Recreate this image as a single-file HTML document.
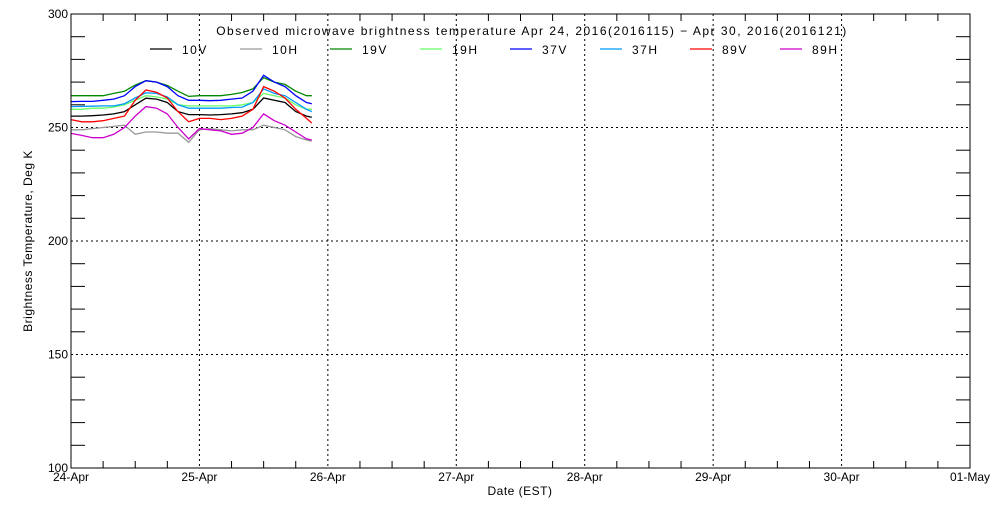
<!DOCTYPE html>
<html><head><meta charset="utf-8"><style>
body{margin:0;background:#fff}
svg text{font-family:"Liberation Sans",sans-serif;font-size:12px;fill:#000}
</style></head><body>
<svg id="chart" width="1000" height="500" xmlns="http://www.w3.org/2000/svg">
<rect width="1000" height="500" fill="#fff"/>
<g id="grid"></g>
<g id="series"></g>
<rect x="71" y="14" width="899" height="454" fill="none" stroke="#000" stroke-width="1"/>
<g id="axes"></g>
<text x="532" y="35" text-anchor="middle" font-size="13" letter-spacing="1.5">Observed microwave brightness temperature Apr 24, 2016(2016115) − Apr 30, 2016(2016121)</text>
<g id="legend"></g>
<text x="520" y="495" text-anchor="middle" letter-spacing="0.5">Date (EST)</text>
<text transform="translate(32,241) rotate(-90)" text-anchor="middle" letter-spacing="0.5">Brightness Temperature, Deg K</text>
</svg>
<script>
const hours=[0,2,4,6,8,10,12,14,16,18,20,22,24,26,28,30,32,34,36,38,40,42,44,45];
const v10V=[255,255,255.2,255.5,256,257,260,262.9,262.5,261,257,255.7,255.7,255.5,255.7,256,256.5,258,263,262,261,257,255,254.5];
const v10H=[249,249,249.5,250,250.5,251,247,248,248,247.5,247.5,243.5,249,249.5,249,248.5,249,249,251,250,249,246,244.5,244];
const v19V=[264,264,264,264,265,266,268.7,270.6,270,268.5,266,263.7,264,264,264,264.6,265.4,267,272,270,269,266,264,264];
const v19H=[258,258,258.5,258.5,259,260,262,264,263.5,262.5,260,259.5,259.5,259.5,259.5,259.5,260,261,265,264,263,260,258,258];
const v37V=[261.4,261.5,261.5,262,262.5,264,268,270.6,270,268,264,262,262,261.8,262,262.5,263,266,273,270,268,264,261,260.5];
const v37H=[259.2,259.3,259.4,259.5,259.5,260.5,263,265.3,265,263.5,260,258.5,258.5,258.5,258.5,258.8,259,261,267,265,264,261,258,257];
const v89V=[253.5,252.5,252.5,253,254,255,262,266.5,265.5,263,257,252.5,254,254,253.5,254,255,258,268,266,263,258,254,252];
const v89H=[247.4,246.5,245.5,245.5,247,250,255,259.2,258.5,256,250,245,249.5,249,248.5,247,247.5,250,256,253,251,248,245,244.5];
const dayLabels=["24-Apr","25-Apr","26-Apr","27-Apr","28-Apr","29-Apr","30-Apr","01-May"];
const yTicks=[100,150,200,250,300];
const seriesNames=["10V","10H","19V","19H","37V","37H","89V","89H"];
const seriesColors=["#000","#999","#008800","#66ff66","#0000ff","#0099ff","#ff0000","#cc00cc"];
const seriesData=[v10V,v10H,v19V,v19H,v37V,v37H,v89V,v89H];
const NS="http://www.w3.org/2000/svg";
const X0=71,X1=970,Y0=468,Y1=14;
const xs=h=>X0+h*(X1-X0)/(7*24);
const ys=v=>Y0-(v-100)*(Y0-Y1)/200;
function mk(tag,attrs,parent){const e=document.createElementNS(NS,tag);for(const k in attrs)e.setAttribute(k,attrs[k]);parent.appendChild(e);return e;}
const grid=document.getElementById('grid'),axes=document.getElementById('axes'),ser=document.getElementById('series'),leg=document.getElementById('legend');
dayLabels.forEach((d,i)=>{const x=xs(i*24);
 if(i>0&&i<7){const l=mk('line',{x1:x,x2:x,y1:Y1,y2:Y0,stroke:'#000','stroke-dasharray':'2,3'},grid);
 
 }
 const t=mk('text',{x:x,y:481,'text-anchor':'middle','font-size':'11'},axes);t.textContent=d;
 
 
});
for(let h=6;h<168;h+=6){if(h%24===0)continue;const x=xs(h);
 mk('line',{x1:x,x2:x,y1:Y0,y2:Y0-7,stroke:'#000'},axes);mk('line',{x1:x,x2:x,y1:Y1,y2:Y1+7,stroke:'#000'},axes);}
yTicks.forEach(v=>{const y=ys(v);
 if(v>100&&v<300){const l=mk('line',{x1:X0,x2:X1,y1:y,y2:y,stroke:'#000','stroke-dasharray':'2,3'},grid);
 
 }
 const t=mk('text',{x:X0-3,y:y+4,'text-anchor':'end','font-size':'11'},axes);t.textContent=v;
 
 
});
for(let v=110;v<300;v+=10){if(v%50===0)continue;const y=ys(v);
 mk('line',{x1:X0,x2:X0+14,y1:y,y2:y,stroke:'#000'},axes);mk('line',{x1:X1,x2:X1-14,y1:y,y2:y,stroke:'#000'},axes);}
seriesData.forEach((arr,i)=>{const p=mk('polyline',{points:arr.map((v,j)=>xs(hours[j]).toFixed(1)+','+ys(v).toFixed(1)).join(' '),fill:'none',stroke:seriesColors[i],'stroke-width':'1.3'},ser);
 
 
});
seriesNames.forEach((n,i)=>{const x=150+i*90;
 const g=mk('g',{},leg);
 
 
 mk('line',{x1:x,x2:x+22,y1:49,y2:49,stroke:seriesColors[i],'stroke-width':'1.3'},g);
 const t=mk('text',{x:x+32,y:54,'font-size':'13','letter-spacing':'1.5'},g);t.textContent=n;
});
</script>
</body></html>
